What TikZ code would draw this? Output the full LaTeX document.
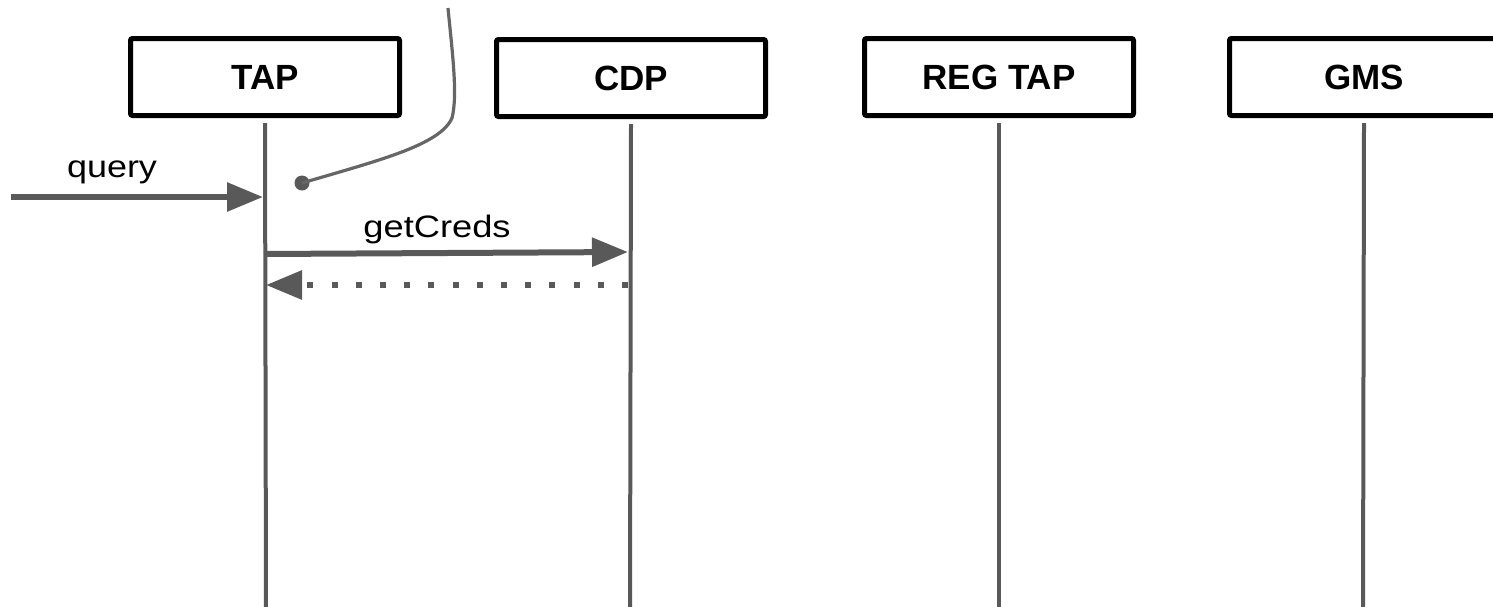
\documentclass[tikz,border=0pt]{standalone}
\usepackage{fontspec}
\usepackage{graphicx}
\setmainfont{Liberation Sans}
\usetikzlibrary{arrows.meta}
\definecolor{ln}{HTML}{595959}
\definecolor{cv}{HTML}{666666}
\begin{document}
\begin{tikzpicture}[x=1pt,y=-1pt,
  actor/.style={draw=black, line width=5pt, rounded corners=2pt, minimum width=269pt,
    minimum height=77pt, inner sep=0pt, fill=white, font=\fontsize{35}{40}\selectfont\bfseries},
  life/.style={draw=ln, line width=4pt},
  msg/.style={draw=ln, line width=6pt, -{Triangle[length=36pt,width=28pt]}},
  ret/.style={msg, dash pattern=on 6pt off 18.2pt},
  lbl/.style={font=\fontsize{31}{36}\selectfont, inner sep=0pt, anchor=base},
  note/.style={draw=cv, line width=3.2pt},
  pin/.style={circle, fill=ln, inner sep=0pt, minimum size=15pt}]
\useasboundingbox (0,0) rectangle (1493,606);
\clip (0,0) rectangle (1493,606);
% actors
\node[actor] (tap) at (265,77) {TAP};
\node[actor] (cdp) at (631,78) {CDP};
\node[actor] (reg) at (999,77) {REG TAP};
\node[actor, minimum width=330pt] (gms) at (1394.5,77) {\hspace*{-61pt}GMS};
% lifeline ends
\coordinate (tapE) at (266,612);
\coordinate (cdpE) at (630,612);
\coordinate (regE) at (999,612);
\coordinate (gmsE) at (1363,612);
\coordinate (gmsS) at (1364,123);
\draw[life] ([yshift=-5pt]tap.south) -- (tapE);
\draw[life] ([yshift=-5pt]cdp.south) -- (cdpE);
\draw[life] ([yshift=-5pt]reg.south) -- (regE);
\draw[life] (gmsS) -- (gmsE);
% messages
\coordinate (qS) at (11,197);
\coordinate (qT) at (263,197);
\draw[msg] (qS) -- (qT);
\node[lbl] (qlab) at (112,177) {\scalebox{1.16}[1]{query}};
\coordinate (gS) at (264,254);
\coordinate (gT) at (628,252);
\draw[msg] (gS) -- (gT);
\node[lbl] (glab) at (437,237) {\scalebox{1.17}[1]{getCreds}};
\coordinate (rS) at (628,285);
\coordinate (rT) at (266,285);
\draw[ret] (rS) -- (rT);
% note connector
\coordinate (ntop) at (448,8);
\coordinate (nmid) at (452,118);
\node[pin] (dot) at (302,183) {};
\draw[note] (ntop) .. controls (452,50) and (458,95) .. (nmid)
  .. controls (440,145) and (380,160) .. (dot.center);
\end{tikzpicture}
\end{document}
